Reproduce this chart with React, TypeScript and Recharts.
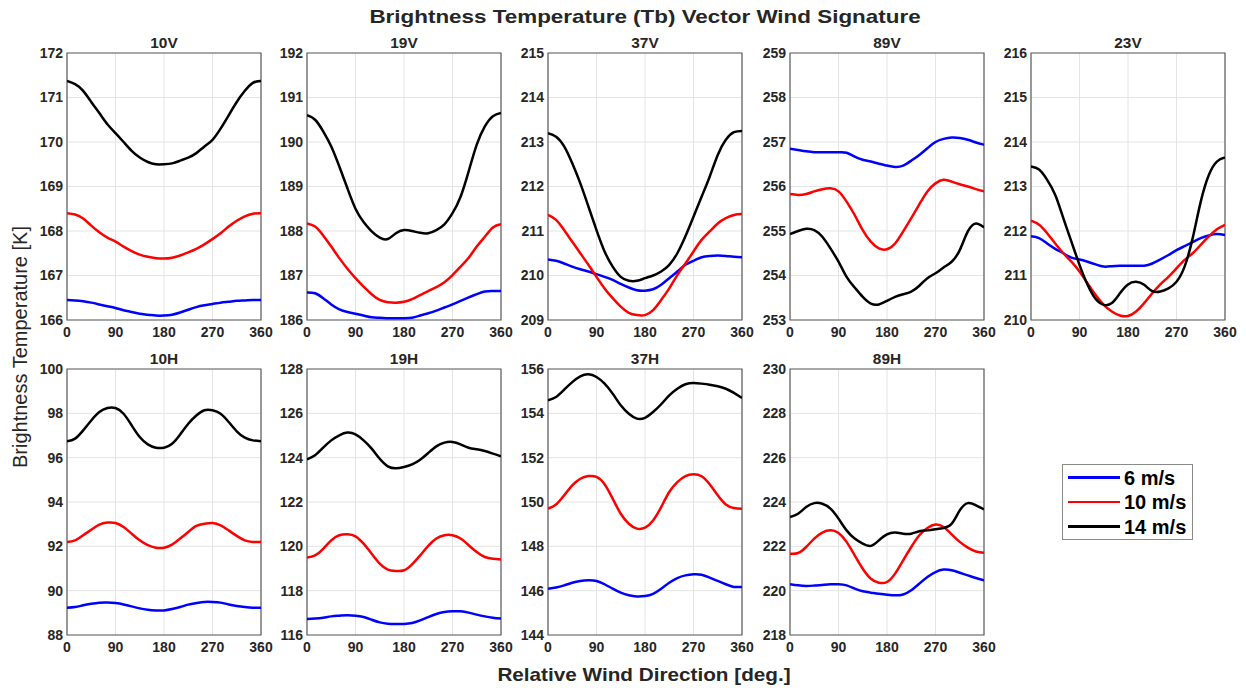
import React from 'react';
import { LineChart, Line, XAxis, YAxis, CartesianGrid, ReferenceArea } from 'recharts';

const ANGLES = [0, 15, 30, 45, 60, 75, 90, 105, 120, 135, 150, 165, 180, 195, 210, 225, 240, 255, 270, 285, 300, 315, 330, 345, 360];
const X_TICKS = [0, 90, 180, 270, 360];
const SERIES_NAMES = ['6 m/s', '10 m/s', '14 m/s'];
const SERIES_COLORS = ['#0000ff', '#ff0000', '#000000'];

// 10V
const V10_6 = [166.45, 166.44, 166.42, 166.39, 166.35, 166.31, 166.27, 166.22, 166.18, 166.14, 166.12, 166.1, 166.1, 166.12, 166.17, 166.23, 166.29, 166.33, 166.36, 166.39, 166.41, 166.43, 166.44, 166.45, 166.45];
const V10_10 = [168.4, 168.37, 168.28, 168.12, 167.97, 167.85, 167.76, 167.65, 167.55, 167.47, 167.42, 167.39, 167.38, 167.4, 167.45, 167.52, 167.6, 167.7, 167.82, 167.95, 168.1, 168.23, 168.33, 168.39, 168.4];
const V10_14 = [171.37, 171.3, 171.15, 170.9, 170.65, 170.4, 170.2, 170.0, 169.8, 169.65, 169.55, 169.5, 169.5, 169.52, 169.58, 169.65, 169.75, 169.9, 170.05, 170.3, 170.6, 170.9, 171.15, 171.33, 171.37];
// 19V
const V19_6 = [186.62, 186.6, 186.49, 186.35, 186.24, 186.18, 186.14, 186.1, 186.06, 186.05, 186.04, 186.04, 186.04, 186.05, 186.1, 186.15, 186.21, 186.28, 186.35, 186.43, 186.51, 186.58, 186.64, 186.65, 186.65];
const V19_10 = [188.17, 188.1, 187.9, 187.65, 187.39, 187.15, 186.94, 186.75, 186.58, 186.45, 186.4, 186.39, 186.41, 186.47, 186.56, 186.65, 186.74, 186.85, 187.01, 187.2, 187.4, 187.65, 187.87, 188.08, 188.15];
const V19_14 = [190.6, 190.5, 190.24, 189.9, 189.45, 188.96, 188.5, 188.2, 187.99, 187.85, 187.82, 187.95, 188.02, 188.0, 187.96, 187.95, 188.02, 188.15, 188.4, 188.77, 189.34, 189.94, 190.35, 190.58, 190.65];
// 37V
const V37_6 = [210.36, 210.33, 210.27, 210.2, 210.14, 210.09, 210.03, 209.97, 209.9, 209.81, 209.73, 209.67, 209.66, 209.69, 209.79, 209.94, 210.09, 210.24, 210.33, 210.41, 210.44, 210.45, 210.44, 210.42, 210.41];
const V37_10 = [211.36, 211.25, 211.02, 210.76, 210.5, 210.24, 209.97, 209.71, 209.49, 209.3, 209.16, 209.11, 209.11, 209.22, 209.45, 209.71, 210.01, 210.27, 210.54, 210.8, 210.99, 211.17, 211.29, 211.36, 211.38];
const V37_14 = [213.2, 213.12, 212.9, 212.52, 212.07, 211.55, 211.02, 210.54, 210.2, 209.97, 209.88, 209.88, 209.94, 210.0, 210.09, 210.24, 210.5, 210.88, 211.32, 211.77, 212.22, 212.71, 213.05, 213.22, 213.25];
// 89V
const V89_6 = [256.85, 256.82, 256.79, 256.77, 256.77, 256.77, 256.77, 256.76, 256.67, 256.6, 256.56, 256.51, 256.47, 256.44, 256.47, 256.58, 256.71, 256.86, 257.0, 257.07, 257.1, 257.09, 257.05, 256.99, 256.94];
const V89_10 = [255.83, 255.81, 255.83, 255.89, 255.94, 255.96, 255.89, 255.66, 255.36, 255.02, 254.76, 254.61, 254.59, 254.72, 254.99, 255.29, 255.6, 255.89, 256.07, 256.15, 256.11, 256.05, 256.0, 255.94, 255.89];
const V89_14 = [254.93, 255.0, 255.05, 255.02, 254.87, 254.61, 254.31, 253.97, 253.73, 253.52, 253.37, 253.35, 253.43, 253.52, 253.58, 253.64, 253.77, 253.94, 254.05, 254.18, 254.31, 254.57, 254.99, 255.17, 255.08];
// 23V
const V23_6 = [211.88, 211.84, 211.72, 211.6, 211.5, 211.4, 211.36, 211.31, 211.25, 211.2, 211.21, 211.22, 211.22, 211.22, 211.22, 211.27, 211.36, 211.46, 211.57, 211.66, 211.75, 211.84, 211.9, 211.93, 211.91];
const V23_10 = [212.23, 212.14, 211.95, 211.72, 211.5, 211.31, 211.09, 210.82, 210.56, 210.34, 210.19, 210.1, 210.09, 210.19, 210.38, 210.6, 210.8, 210.97, 211.16, 211.35, 211.5, 211.69, 211.88, 212.04, 212.14];
const V23_14 = [213.45, 213.38, 213.15, 212.81, 212.29, 211.76, 211.24, 210.79, 210.47, 210.34, 210.38, 210.6, 210.8, 210.86, 210.79, 210.65, 210.64, 210.71, 210.86, 211.2, 211.84, 212.66, 213.26, 213.56, 213.65];
// 10H
const H10_6 = [89.23, 89.26, 89.34, 89.41, 89.46, 89.47, 89.44, 89.38, 89.29, 89.2, 89.14, 89.11, 89.11, 89.17, 89.26, 89.37, 89.44, 89.49, 89.49, 89.46, 89.38, 89.31, 89.26, 89.23, 89.23];
const H10_10 = [92.2, 92.27, 92.5, 92.75, 92.98, 93.07, 93.05, 92.87, 92.57, 92.27, 92.05, 91.94, 91.94, 92.08, 92.35, 92.65, 92.92, 93.02, 93.05, 92.95, 92.72, 92.47, 92.27, 92.2, 92.2];
const H10_14 = [96.74, 96.86, 97.23, 97.68, 98.06, 98.24, 98.24, 97.98, 97.46, 96.93, 96.6, 96.45, 96.45, 96.63, 97.05, 97.53, 97.9, 98.14, 98.14, 97.98, 97.61, 97.19, 96.9, 96.78, 96.74];
// 19H
const H19_6 = [116.72, 116.74, 116.78, 116.84, 116.87, 116.89, 116.87, 116.81, 116.69, 116.57, 116.51, 116.5, 116.5, 116.54, 116.66, 116.81, 116.95, 117.04, 117.07, 117.07, 117.01, 116.92, 116.84, 116.78, 116.74];
const H19_10 = [119.49, 119.59, 119.89, 120.27, 120.5, 120.54, 120.45, 120.12, 119.67, 119.22, 118.95, 118.89, 118.92, 119.19, 119.59, 120.02, 120.35, 120.5, 120.5, 120.35, 120.05, 119.74, 119.52, 119.44, 119.41];
const H19_14 = [123.92, 124.11, 124.45, 124.78, 125.01, 125.13, 125.05, 124.78, 124.41, 123.95, 123.61, 123.52, 123.58, 123.7, 123.91, 124.21, 124.51, 124.68, 124.71, 124.6, 124.45, 124.38, 124.3, 124.18, 124.06];
// 37H
const H37_6 = [146.09, 146.14, 146.24, 146.36, 146.44, 146.47, 146.44, 146.29, 146.09, 145.91, 145.79, 145.74, 145.76, 145.86, 146.09, 146.36, 146.57, 146.69, 146.74, 146.72, 146.59, 146.44, 146.29, 146.17, 146.17];
const H37_10 = [149.7, 149.89, 150.3, 150.75, 151.05, 151.17, 151.13, 150.8, 150.15, 149.47, 149.02, 148.8, 148.84, 149.17, 149.77, 150.45, 150.9, 151.17, 151.25, 151.16, 150.8, 150.3, 149.89, 149.73, 149.7];
const H37_14 = [154.59, 154.74, 155.07, 155.41, 155.67, 155.76, 155.64, 155.34, 154.89, 154.36, 153.98, 153.76, 153.8, 154.06, 154.41, 154.81, 155.11, 155.31, 155.37, 155.34, 155.29, 155.22, 155.11, 154.92, 154.69];
// 89H
const H89_6 = [220.29, 220.24, 220.21, 220.23, 220.26, 220.29, 220.29, 220.24, 220.09, 219.97, 219.91, 219.86, 219.82, 219.79, 219.83, 220.02, 220.32, 220.62, 220.84, 220.95, 220.92, 220.81, 220.69, 220.57, 220.47];
const H89_10 = [221.67, 221.7, 221.97, 222.35, 222.62, 222.72, 222.6, 222.2, 221.59, 220.99, 220.54, 220.36, 220.39, 220.77, 221.37, 221.97, 222.5, 222.83, 222.98, 222.87, 222.54, 222.2, 221.94, 221.77, 221.71];
const H89_14 = [223.32, 223.47, 223.77, 223.95, 223.92, 223.7, 223.25, 222.72, 222.35, 222.12, 222.02, 222.27, 222.54, 222.62, 222.57, 222.57, 222.68, 222.72, 222.77, 222.83, 223.02, 223.62, 223.95, 223.85, 223.67];

const PANEL_TITLES = ['10V', '19V', '37V', '89V', '23V', '10H', '19H', '37H', '89H'];
const PANEL_Y_TICKS = [
  [166, 167, 168, 169, 170, 171, 172],
  [186, 187, 188, 189, 190, 191, 192],
  [209, 210, 211, 212, 213, 214, 215],
  [253, 254, 255, 256, 257, 258, 259],
  [210, 211, 212, 213, 214, 215, 216],
  [88, 90, 92, 94, 96, 98, 100],
  [116, 118, 120, 122, 124, 126, 128],
  [144, 146, 148, 150, 152, 154, 156],
  [218, 220, 222, 224, 226, 228, 230],
];
const PANEL_SERIES = [
  [V10_6, V10_10, V10_14],
  [V19_6, V19_10, V19_14],
  [V37_6, V37_10, V37_14],
  [V89_6, V89_10, V89_14],
  [V23_6, V23_10, V23_14],
  [H10_6, H10_10, H10_14],
  [H19_6, H19_10, H19_14],
  [H37_6, H37_10, H37_14],
  [H89_6, H89_10, H89_14],
];

const COL_LEFT = [67, 307, 548, 790, 1031];
const ROW_TOP = [53, 369];
const PLOT_W = 194;
const PLOT_H = [267, 266];
const Y_AXIS_W = 50;
const M_TOP = 10;
const M_RIGHT = 22;
const X_AXIS_H = 30;

const FONT = "'Liberation Sans', Arial, Helvetica, sans-serif";
const TEXT_COLOR = '#262626';

function Panel({ index }: { index: number }) {
  const row = index < 5 ? 0 : 1;
  const col = index < 5 ? index : index - 5;
  const left = COL_LEFT[col];
  const top = ROW_TOP[row];
  const h = PLOT_H[row];
  const yTicks = PANEL_Y_TICKS[index];
  const series = PANEL_SERIES[index];
  const data = ANGLES.map((a, i) => ({ angle: a, s0: series[0][i], s1: series[1][i], s2: series[2][i] }));
  const yMin = yTicks[0];
  const yMax = yTicks[yTicks.length - 1];
  const chartW = PLOT_W + Y_AXIS_W + M_RIGHT;
  const chartH = h + M_TOP + X_AXIS_H;
  return (
    <>
      <div
        style={{
          position: 'absolute',
          left: left,
          top: top - 18,
          width: PLOT_W,
          textAlign: 'center',
          fontSize: 14,
          fontWeight: 'bold',
          color: TEXT_COLOR,
          lineHeight: '16px',
          transform: 'scaleX(1.1)',
        }}
      >
        {PANEL_TITLES[index]}
      </div>
      <div style={{ position: 'absolute', left: left - Y_AXIS_W, top: top - M_TOP }}>
        <LineChart width={chartW} height={chartH} data={data} margin={{ top: M_TOP, right: M_RIGHT, bottom: 0, left: 0 }}>
          <CartesianGrid stroke="#e4e4e4" strokeWidth={1} />
          <XAxis
            dataKey="angle"
            type="number"
            domain={[0, 360]}
            ticks={X_TICKS}
            interval={0}
            height={X_AXIS_H}
            axisLine={false}
            tickLine={false}
            tickSize={4}
            tickMargin={3}
            tick={{ fontSize: 14, fontWeight: 'bold', fill: TEXT_COLOR }}
            allowDataOverflow
          />
          <YAxis
            type="number"
            domain={[yMin, yMax]}
            ticks={yTicks}
            interval={0}
            width={Y_AXIS_W}
            axisLine={false}
            tickLine={false}
            tickSize={2}
            tickMargin={2}
            tick={{ fontSize: 14, fontWeight: 'bold', fill: TEXT_COLOR }}
            allowDataOverflow
          />
          <ReferenceArea x1={0} x2={360} y1={yMin} y2={yMax} fill="none" stroke="#5e5e5e" strokeWidth={1.2} ifOverflow="visible" />
          {[0, 1, 2].map((k) => (
            <Line
              key={k}
              type="natural"
              dataKey={'s' + k}
              name={SERIES_NAMES[k]}
              stroke={SERIES_COLORS[k]}
              strokeWidth={2.5}
              dot={false}
              activeDot={false}
              isAnimationActive={false}
            />
          ))}
        </LineChart>
      </div>
    </>
  );
}

export default function App() {
  return (
    <div
      style={{
        position: 'fixed',
        left: 0,
        top: 0,
        width: 1246,
        height: 688,
        background: '#ffffff',
        fontFamily: FONT,
        overflow: 'hidden',
      }}
    >
      <div
        style={{
          position: 'absolute',
          left: 145,
          top: 5,
          width: 1000,
          textAlign: 'center',
          fontSize: 19,
          fontWeight: 'bold',
          color: TEXT_COLOR,
          lineHeight: '24px',
          transform: 'scaleX(1.18)',
          whiteSpace: 'nowrap',
        }}
      >
        Brightness Temperature (Tb) Vector Wind Signature
      </div>
      {PANEL_TITLES.map((_, i) => (
        <Panel key={i} index={i} />
      ))}
      <div
        style={{
          position: 'absolute',
          left: 20 - 150,
          top: 347 - 12,
          width: 300,
          height: 24,
          lineHeight: '24px',
          textAlign: 'center',
          fontSize: 20,
          color: TEXT_COLOR,
          transform: 'rotate(-90deg)',
          whiteSpace: 'nowrap',
        }}
      >
        Brightness Temperature [K]
      </div>
      <div
        style={{
          position: 'absolute',
          left: 444,
          top: 663,
          width: 400,
          textAlign: 'center',
          fontSize: 19,
          fontWeight: 'bold',
          color: TEXT_COLOR,
          lineHeight: '24px',
          transform: 'scaleX(1.09)',
          whiteSpace: 'nowrap',
        }}
      >
        Relative Wind Direction [deg.]
      </div>
      <div
        style={{
          position: 'absolute',
          left: 1062,
          top: 464,
          width: 129,
          height: 74,
          border: '1px solid #8a8a8a',
          background: '#ffffff',
        }}
      >
        {SERIES_NAMES.map((name, k) => (
          <div key={k} style={{ position: 'absolute', left: 5, top: 0.5 + k * 24.5, height: 24, display: 'flex', alignItems: 'center' }}>
            <div style={{ width: 52, height: 2.5, background: SERIES_COLORS[k] }} />
            <span style={{ marginLeft: 4, fontSize: 20, fontWeight: 'bold', color: '#000', lineHeight: '24px' }}>{name}</span>
          </div>
        ))}
      </div>
    </div>
  );
}
